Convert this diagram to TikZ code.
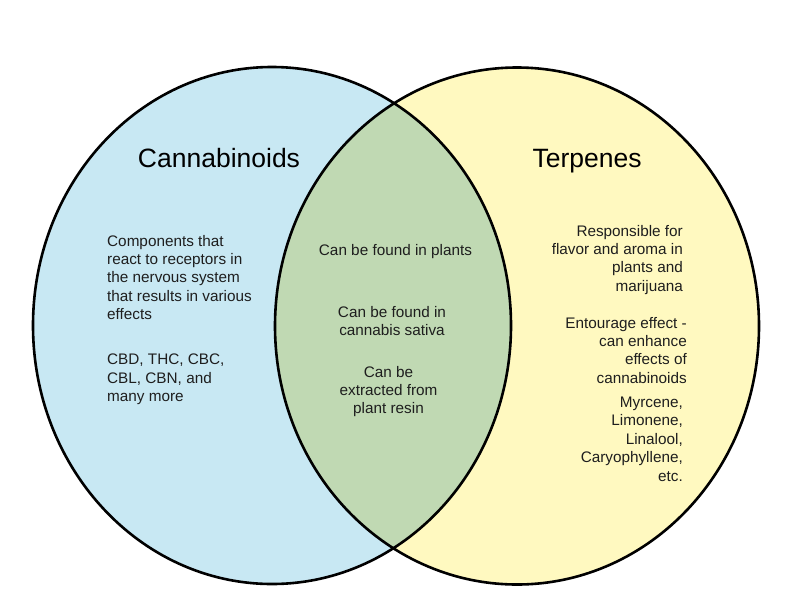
\documentclass[tikz,border=0pt]{standalone}
\usepackage{fontspec}
\setmainfont{Liberation Sans}
\definecolor{cblue}{RGB}{200,232,243}
\definecolor{cyellow}{RGB}{255,249,192}
\definecolor{cgreen}{RGB}{192,217,179}
\definecolor{ctext}{RGB}{30,30,30}
\begin{document}
\begin{tikzpicture}[x=1pt,y=-1pt,
  outline/.style={draw=black,line width=2.6pt},
  title/.style={font=\fontsize{26.5}{30}\selectfont,text=black,inner sep=0pt,anchor=base},
  body/.style={font=\fontsize{15.3}{18.4}\selectfont,text=ctext,inner sep=0pt}]
\useasboundingbox (0,0) rectangle (800,600);
\fill[white] (0,0) rectangle (800,600);
\fill[cblue] (272,325.5) ellipse [x radius=239,y radius=258.5];
\fill[cyellow] (517,326) ellipse [x radius=242,y radius=258.5];
\begin{scope}
  \clip (272,325.5) ellipse [x radius=239,y radius=258.5];
  \fill[cgreen] (517,326) ellipse [x radius=242,y radius=258.5];
\end{scope}
\draw[outline] (272,325.5) ellipse [x radius=239,y radius=258.5];
\draw[outline] (517,326) ellipse [x radius=242,y radius=258.5];

\node[title] (t1) at (219,167) {Cannabinoids};
\node[title] (t2) at (587,167) {Terpenes};

\node[body,anchor=north west,align=left] (l1) at (107,234.8) {Components that\\react to receptors in\\the nervous system\\that results in various\\effects};
\node[body,anchor=north west,align=left] (l2) at (107,353.8) {CBD, THC, CBC,\\CBL, CBN, and\\many more};

\node[body,anchor=base,align=center] (c1) at (395.5,255) {Can be found in plants};
\node[body,anchor=north,align=center] (c2) at (392,305.8) {Can be found in\\cannabis sativa};
\node[body,anchor=north,align=center] (c3) at (388.5,365.8) {Can be\\extracted from\\plant resin};

\node[body,anchor=north east,align=right] (r1) at (683,224.8) {Responsible for\\flavor and aroma in\\plants and\\marijuana};
\node[body,anchor=north east,align=right] (r2) at (687,316.8) {Entourage effect -\\can enhance\\effects of\\cannabinoids};
\node[body,anchor=north east,align=right] (r3) at (683,396.8) {Myrcene,\\Limonene,\\Linalool,\\Caryophyllene,\\etc.};
\end{tikzpicture}
\end{document}
